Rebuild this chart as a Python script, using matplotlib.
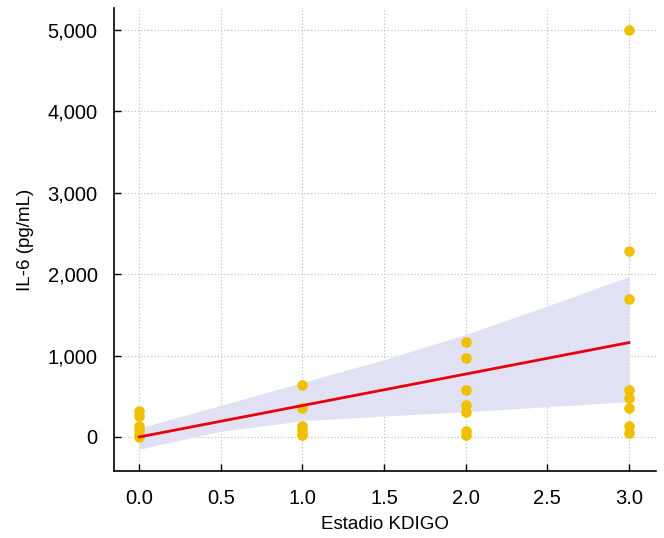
import matplotlib
matplotlib.use("Agg")
import matplotlib.pyplot as plt
from matplotlib.ticker import FuncFormatter

plt.rcParams['font.family'] = ['Liberation Sans', 'DejaVu Sans']

# --- DATOS ---
estadio = [0, 0, 0, 0, 0, 0,
           1, 1, 1, 1, 1, 1,
           2, 2, 2, 2, 2, 2, 2,
           3, 3, 3, 3, 3, 3, 3, 3]
il6 = [320, 260, 140, 80, 20, 5,
       635, 355, 130, 80, 40, 20,
       1170, 975, 580, 390, 305, 70, 30,
       5000, 2290, 1690, 580, 480, 360, 130, 50]

# recta ajustada
recta_x = [0, 3]
recta_y = [0, 1160]

# banda de confianza
banda_x = [0, 0.5, 1, 1.5, 2, 2.5, 3]
banda_inf = [-150, 70, 200, 258, 311, 372, 434]
banda_sup = [110, 390, 670, 950, 1260, 1610, 1970]

fig = plt.figure(figsize=(6.64, 5.38), dpi=100)
ax = fig.add_axes([0.172, 0.1245, 0.816, 0.8605])

ax.fill_between(banda_x, banda_inf, banda_sup, color='#E1E1F4', linewidth=0, zorder=1)
ax.scatter(estadio, il6, s=58, color='#F0C000', linewidths=0, zorder=2)
ax.plot(recta_x, recta_y, color='#E8000B', linewidth=2, zorder=3)

ax.set_xlim(-0.153, 3.166)
ax.set_ylim(-418, 5270)
ax.set_xticks([0, 0.5, 1, 1.5, 2, 2.5, 3])
ax.set_yticks([0, 1000, 2000, 3000, 4000, 5000])
ax.xaxis.set_major_formatter(FuncFormatter(lambda v, p: f"{v:.1f}"))
ax.yaxis.set_major_formatter(FuncFormatter(lambda v, p: f"{v:,.0f}"))

ax.grid(True, color='#BBBBBB', linestyle=(0, (1, 2)), linewidth=0.8, zorder=0)
ax.set_axisbelow(True)

ax.spines['top'].set_visible(False)
ax.spines['right'].set_visible(False)
ax.spines['left'].set_linewidth(1.2)
ax.spines['bottom'].set_linewidth(1.2)
ax.tick_params(direction='in', length=5, width=1, labelsize=14.5)
ax.tick_params(axis='x', pad=13)
ax.tick_params(axis='y', pad=12)

ax.set_xlabel('Estadio KDIGO', fontsize=13.5, labelpad=6)
ax.set_ylabel('IL-6 (pg/mL)', fontsize=13.5, labelpad=10)

fig.savefig('out.png', dpi=100)
